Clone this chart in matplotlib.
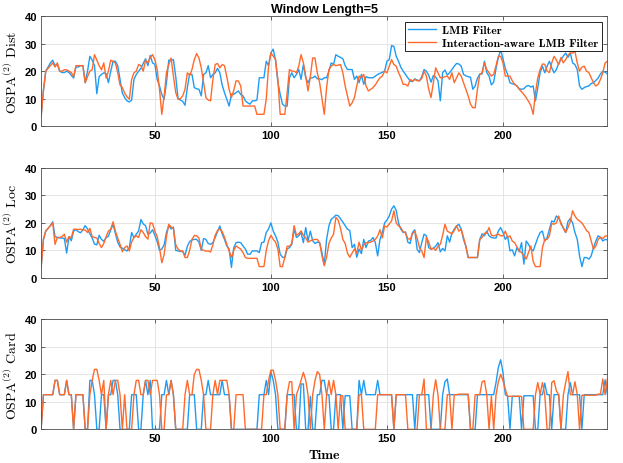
import matplotlib.pyplot as plt
import numpy as np

plt.rcParams['mathtext.fontset'] = 'cm'
plt.rcParams['axes.unicode_minus'] = False

# OSPA(2) distance, time steps 1..245
dist_lmb = [3.5, 13, 20, 21.5, 23, 24, 22, 22.5, 20, 19.5,
            19.5, 20, 19.5, 18.5, 17.5, 21.5, 21.5, 22, 22, 15.8,
            20, 25.4, 24, 22, 11.8, 18, 18.8, 19.4, 19, 15.8,
            20, 23.6, 23.6, 22, 17, 12, 10.4, 9.2, 8.8, 9.5,
            17, 18.8, 20, 21, 22.8, 24.5, 22, 25.7, 23, 22.5,
            17, 14.6, 11.5, 9.8, 15.8, 24, 24, 24.2, 18, 10,
            9.5, 9, 7.6, 14, 19, 18.8, 14, 13.6, 13.4, 11,
            18.8, 19.4, 22, 17.6, 18.8, 19.4, 21, 19.4, 15, 12.2,
            9.8, 7.3, 11.6, 11.6, 12.2, 12.8, 11.5, 11, 9.2, 8.5,
            8, 9.2, 9.2, 9.5, 17.6, 17.6, 17.6, 23.6, 22, 26.6,
            28, 24, 16, 11.6, 8, 7.3, 7.3, 17.6, 19.4, 17.6,
            18.8, 20.6, 17, 22.4, 17.6, 15.8, 17.6, 17.6, 18.2, 17.2,
            17.2, 16.9, 17.6, 17.6, 20, 23, 22.4, 26, 25.4, 25,
            24.5, 22, 20.6, 20.6, 20.6, 17, 18.2, 15.8, 18.8, 15.2,
            18, 17.6, 17.6, 17.6, 18.2, 18.8, 19.2, 19.6, 20, 23.6,
            24.2, 29.3, 29, 25.4, 23.6, 21.4, 20, 18.8, 17.6, 16.4,
            16.2, 17.2, 16.8, 16.4, 18, 20.6, 20, 18.5, 16, 18.4,
            17.8, 16.5, 9.2, 19.5, 20.4, 18.6, 19.4, 20.6, 21.8, 22.8,
            22.6, 21.8, 18.8, 18.3, 18, 17.8, 13.4, 14.6, 17.4, 19,
            19, 23.6, 19.5, 18.2, 15, 16, 21, 25, 27.8, 24.5,
            21, 18.8, 15.8, 15.4, 15.2, 14.6, 13.6, 13.4, 13.6, 14.5,
            14.8, 14.2, 14.6, 9.2, 14, 19.5, 21.8, 19.4, 21.8, 23.6,
            21.2, 19.4, 20.6, 22.8, 24.2, 25.5, 26.6, 25, 26.6, 23,
            22.4, 20.6, 14.6, 13.4, 14, 14.4, 14.6, 15.5, 15.8, 16.6,
            17.5, 19, 20, 19.6, 19]
dist_ia = [3.5, 13, 20, 21, 22, 23, 21.5, 23, 20, 20,
           20.5, 20.5, 20, 19.5, 18, 22, 22, 22, 22, 15.8,
           18, 20, 20.5, 26, 24, 22, 20.5, 23, 17.5, 20,
           24, 23.5, 23, 19.5, 15, 14, 12, 10.7, 9.8, 17,
           19.4, 20, 22.4, 22, 20, 24, 23, 25, 26, 24.2,
           20.6, 13.4, 4.3, 11, 19.4, 22.4, 24.8, 18.2, 12.2, 9.8,
           10, 11, 13.4, 19.4, 18.4, 20.6, 24.2, 26.4, 24.8, 21.2,
           15.8, 10.4, 9.5, 9.2, 17, 22.4, 22.8, 21.2, 22.4, 22,
           18, 13.4, 10.4, 13, 16.5, 16.4, 14.6, 7.3, 7.3, 7.3,
           7.3, 7.3, 7.3, 4.3, 4.3, 4.3, 4.3, 9.8, 21.8, 26.6,
           25.5, 24.2, 17, 4.3, 4.3, 4.3, 12, 20.6, 20, 20,
           19.4, 21.8, 26, 23, 18.2, 12.8, 18, 24.8, 24.8, 19.4,
           15.8, 10, 4.3, 14, 20.6, 21.8, 22.4, 22, 22.2, 22.4,
           19.4, 14.6, 11, 7.3, 8.5, 10.4, 14.6, 18.2, 17.6, 18.8,
           14.6, 12.8, 13.4, 14, 15, 16.4, 17.6, 18.2, 20, 19.4,
           21.8, 24.2, 22.4, 21.8, 19.5, 17.6, 15.2, 15.2, 14.6, 17,
           16.4, 17, 16.5, 16.6, 17.3, 20, 18.2, 13.4, 10.4, 15.7,
           21.2, 19.4, 17.6, 17.6, 18, 18.2, 17, 19.4, 15.8, 17.6,
           19.4, 18.2, 15.8, 13.4, 11, 8, 6.7, 6.7, 13.4, 18.8,
           19.4, 23, 20.6, 19.4, 18.2, 18.8, 22, 25.4, 25.4, 23,
           18.2, 18.2, 18.2, 16.5, 15.2, 14.6, 13.4, 12.5, 11.5, 10.4,
           9, 7.5, 4.3, 12.2, 17.6, 20.6, 22.6, 22.5, 20, 19.5,
           23, 25.4, 24, 22.4, 25, 23, 24.2, 25.8, 26.6, 26.6,
           27.2, 23, 20, 21.5, 21.8, 20, 19.5, 17.6, 15.8, 14.6,
           15.2, 17, 19.4, 23, 23.6]

# OSPA(2) localisation
loc_lmb = [3.8, 14, 17, 18, 19, 20.4, 15, 14.7, 14.5, 14.5,
           14.3, 9, 15, 13.5, 17, 17.6, 16.8, 16.4, 17.5, 19,
           17.8, 16, 14.5, 12.3, 12, 15.5, 14, 13.3, 14.6, 15.2,
           17.5, 19.4, 16.2, 13, 11.2, 10.8, 10.2, 9.8, 11, 16.5,
           14.6, 15.9, 17, 21.2, 19.6, 19, 15.9, 16.3, 17.5, 15.5,
           13.2, 10, 10.5, 12, 16.5, 18.9, 17.8, 18.5, 10, 9.8,
           9.6, 9.6, 8.2, 11.5, 13.2, 13.8, 14, 14, 13, 10,
           14.3, 14, 12.5, 12.2, 12.8, 14.7, 16.8, 18.9, 16, 14,
           11.6, 10.5, 3.8, 11, 12.8, 13, 12.8, 11.6, 10.5, 8.6,
           8.6, 9.8, 9.8, 9.8, 9.2, 12.8, 13, 16.5, 17.8, 20,
           17, 15.3, 13, 8.6, 7.5, 7.4, 10.5, 11, 12.2, 17.7,
           14.7, 15.3, 16.5, 12.8, 18.3, 13.5, 17, 13.5, 12.5, 13,
           12.8, 9.2, 4.8, 14, 18.9, 21.3, 22, 22.8, 22.6, 21.5,
           20.3, 19, 17.7, 17.2, 11, 12.2, 7.5, 10.5, 8.8, 14,
           11, 13.4, 13.6, 14.7, 12.8, 8, 14, 16.5, 20, 21,
           22.5, 25, 26.2, 24.5, 20, 17.7, 16.5, 16.7, 13, 12.5,
           16.5, 17.5, 10.4, 9.2, 12.8, 15.9, 15.3, 11, 10.4, 10.8,
           11.5, 12.8, 9.5, 10.7, 9.8, 15.3, 13, 16.3, 17.7, 18.9,
           19.5, 17.7, 14, 11.5, 7.4, 7.4, 7.4, 7.4, 7.4, 14,
           16, 15.3, 17, 15.3, 14.7, 14.5, 14.5, 17, 18.3, 16.5,
           14, 15.2, 9.8, 10.2, 8, 11, 9.5, 12.8, 5, 13.4,
           12.2, 10.6, 9.8, 12.2, 14.6, 16.5, 17, 13.4, 14.6, 17.7,
           20.7, 20.3, 22.5, 21.8, 20, 18, 16.5, 20.5, 21.6, 20,
           16.5, 14, 8, 4.1, 7.4, 7.4, 6.8, 8, 11, 13.4,
           15.3, 14.7, 13.4, 14, 13.8]
loc_ia = [3.8, 14, 17, 18, 19, 20, 12.2, 14.7, 14.7, 15,
          15.9, 13, 15, 14.6, 17.7, 17.7, 17.6, 17.7, 17.4, 17.4,
          16.5, 18, 15, 14.7, 14.5, 12.5, 11, 12.5, 15, 17,
          17.7, 20.4, 17, 14.5, 12.2, 9.5, 11, 11.6, 9.8, 13,
          14.7, 15.3, 14.7, 17.5, 16.5, 15, 14.1, 20, 19.8, 17,
          15, 11, 5.5, 8.5, 15, 19.5, 18.5, 18, 12, 10.5,
          9.8, 9.8, 7.4, 7.4, 10, 14, 15.4, 15.3, 14.5, 10.5,
          10, 9.7, 9.8, 9.4, 12, 15.5, 17.2, 17.8, 16.8, 14.8,
          12.2, 9.8, 7.4, 10, 11.6, 11, 10.5, 9.2, 7.4, 7.1,
          7.1, 7.1, 7.1, 7.1, 4.1, 4.1, 4.1, 10, 13.5, 15.5,
          14, 13, 10.5, 4.1, 4.1, 7.5, 11.5, 11.5, 12.5, 19,
          15.5, 16, 17.1, 15.5, 14.5, 13, 13.5, 13.8, 14, 14,
          12.8, 8, 4.4, 7.5, 12.5, 14.5, 15.9, 22, 21, 18,
          14, 12.5, 9, 7.5, 9, 10.5, 9, 13, 10, 12,
          12.8, 12.8, 13, 13.4, 14, 15.2, 17.5, 14.5, 18.9, 18.5,
          19.6, 20.7, 24.4, 20, 18.9, 18.2, 16.8, 16.3, 14.3, 14,
          16, 17, 14.5, 11, 9.8, 7.4, 14.7, 13, 10.4, 10.8,
          10, 11.5, 12.2, 15.5, 19.5, 17, 16.5, 16, 17.2, 18.9,
          17, 17.7, 14.7, 11.5, 7.4, 7.4, 7.4, 7.4, 7.4, 14,
          14.7, 16.2, 16.3, 18.3, 15.5, 15.3, 15.5, 15.9, 15.3, 15.3,
          17, 14.7, 15.3, 13.4, 12.8, 11.3, 9.8, 9.2, 8, 6.8,
          9.2, 11.6, 6, 4.1, 4.1, 4.1, 11, 14, 14, 15.3,
          19.8, 19.5, 20, 22.5, 19.5, 18.3, 16.5, 18.3, 20.5, 24.4,
          22.5, 21.3, 20.7, 20, 18.7, 17.2, 16.5, 13.5, 10.4, 11.6,
          14, 14.8, 14.3, 15.2, 15.3]

# OSPA(2) cardinality
card_lmb = [0, 12.6, 12.6, 12.6, 12.6, 12.6, 17.8, 17.8, 12.6, 12.6,
            12.6, 17.8, 12.6, 12.6, 0, 12.6, 12.6, 12.6, 12.6, 0,
            0, 17.8, 17.8, 12.6, 0, 0, 12.6, 12.6, 0, 12.6,
            12.6, 17.8, 17.8, 12.6, 0, 0, 0, 0, 0, 12.6,
            12.6, 12.6, 0, 0, 12.6, 17.8, 12.6, 17.8, 0, 0,
            0, 0, 12.6, 12.6, 17.8, 12.6, 17.8, 12.6, 0, 0,
            0, 0, 0, 0, 12.6, 12.6, 12.6, 0, 0, 0,
            12.6, 12.6, 17.8, 12.6, 12.6, 12.6, 12.6, 12.6, 17.8, 12.6,
            12.6, 12.6, 0, 0, 0, 0, 0, 0, 0, 0,
            0, 0, 0, 0, 12.6, 12.6, 12.6, 17.8, 12.6, 21,
            17.8, 12.6, 0, 0, 0, 0, 12.6, 12.6, 12.6, 12.6,
            0, 0, 16.5, 16.5, 0, 0, 12, 0, 0, 12.6,
            12.6, 17.8, 17.8, 12.6, 12.6, 0, 0, 12.6, 12.6, 12.6,
            0, 12.2, 12.2, 12.2, 0, 0, 0, 17.8, 12.6, 17.8,
            12.6, 12.6, 12.6, 12.6, 12.6, 17.8, 12.6, 12.6, 12.6, 12.6,
            12.6, 12.6, 0, 12.6, 12.6, 12.6, 12.6, 12.6, 12.6, 12.6,
            12.6, 0, 12.6, 12.6, 12.6, 12.6, 12.6, 12.6, 0, 0,
            0, 0, 0, 12.6, 17.3, 18.3, 12.6, 12.6, 12.6, 12.6,
            12.6, 12.6, 12.6, 12.6, 12.6, 0, 0, 0, 12.6, 12.6,
            12.6, 12.6, 12.6, 12.6, 12.6, 12.6, 17, 22.5, 25.3, 20.7,
            12.6, 12, 0, 12, 12, 12, 12, 0, 12.2, 12.2,
            12.2, 12.2, 12.2, 0, 0, 12.6, 12.6, 16.8, 12.6, 12.6,
            0, 12.6, 12.6, 12.6, 0, 0, 0, 12.6, 17, 12.6,
            12.6, 12.6, 12.6, 0, 12.6, 12.6, 12.6, 12.6, 12.6, 12.6,
            12.6, 12.6, 12.6, 18, 12.6]
card_ia = [0, 12.6, 12.6, 12.6, 12.6, 12.6, 17.8, 17.8, 12.6, 12.6,
           12.6, 17.8, 12.6, 12.6, 0, 12.6, 12.6, 12.6, 12.6, 0,
           0, 12.6, 17.8, 21.8, 21.8, 17.8, 12.6, 17.8, 0, 12.6,
           17.8, 12.6, 17.8, 17.8, 12.6, 0, 12.6, 0, 0, 0,
           12.6, 17.8, 17.8, 12.6, 12.6, 17.8, 17.8, 12.6, 17.8, 17.8,
           17.8, 12.6, 0, 0, 12.6, 12.6, 17.8, 12.6, 0, 0,
           0, 0, 12.6, 17.8, 12.6, 12.6, 20, 21.8, 21.8, 17.8,
           12.6, 0, 0, 0, 12.6, 17.8, 12.6, 17.8, 17.8, 17.8,
           17.8, 12.6, 0, 0, 12.6, 12.6, 12.6, 12.6, 0, 0,
           0, 0, 0, 0, 0, 0, 12.6, 12.6, 17.8, 21.5,
           21.5, 17.8, 12.6, 0, 0, 0, 12.6, 17.3, 17.3, 0,
           12.6, 15, 17.8, 20.7, 17.8, 12.6, 0, 12.6, 17.8, 21,
           20, 12.6, 0, 12.6, 17.8, 12.6, 17.8, 12.6, 0, 12.2,
           12.2, 0, 0, 0, 0, 0, 0, 12.6, 12.6, 0,
           0, 0, 0, 0, 0, 12.6, 12.6, 12.6, 12.6, 12.6,
           12.6, 12.6, 0, 12.6, 12.6, 12.6, 12.6, 12.6, 0, 0,
           0, 0, 0, 12.6, 12.6, 18.3, 0, 0, 0, 12.6,
           18, 12.6, 0, 0, 0, 12.6, 12.6, 0, 12.6, 12.6,
           12.8, 12.8, 12.8, 12.8, 12.8, 0, 0, 12.6, 12.6, 12.6,
           17.3, 17.7, 12.6, 0, 12.2, 0, 12.6, 17.3, 20, 17.7,
           14.5, 12, 12, 12, 12, 12, 12, 12, 0, 0,
           0, 0, 0, 12.6, 17, 12.6, 17, 12.6, 0, 0,
           17, 17.7, 14, 12.6, 0, 12.4, 17, 21, 12.6, 12.6,
           17.3, 12.6, 0, 12.4, 12.4, 12.4, 12.4, 12.4, 12.4, 12.4,
           12.8, 12.8, 18.3, 12.6, 18.5]

panel_names = ['Dist', 'Loc', 'Card']
series_labels = ['LMB Filter', 'Interaction-aware LMB Filter']
x_ticks = [50, 100, 150, 200]
y_ticks = [0, 10, 20, 30, 40]

blue = '#1e9cf4'
orange = '#ff6a2b'

fig = plt.figure(figsize=(6.23, 4.64), dpi=100)
bottoms = [0.726, 0.399, 0.0726]
panels = [(dist_lmb, dist_ia), (loc_lmb, loc_ia), (card_lmb, card_ia)]

axes = []
for b, (s1, s2), name in zip(bottoms, panels, panel_names):
    ax = fig.add_axes([0.066, b, 0.909, 0.237])
    ax.plot(np.arange(1, len(s1) + 1), s1, color=blue, lw=1.0, label=series_labels[0])
    ax.plot(np.arange(1, len(s2) + 1), s2, color=orange, lw=1.0, label=series_labels[1])
    ax.set_xlim(1, 245)
    ax.set_ylim(0, 40)
    ax.set_xticks(x_ticks)
    ax.set_yticks(y_ticks)
    ax.grid(True, color='#e1e1e1', lw=0.6)
    ax.set_axisbelow(True)
    ax.tick_params(direction='in', top=True, right=True, length=3, width=0.6,
                   labelsize=8, color='0.3', pad=3)
    for lab in ax.get_xticklabels() + ax.get_yticklabels():
        lab.set_fontweight('bold')
        lab.set_family('Liberation Sans')
    for sp in ax.spines.values():
        sp.set_color('0.3')
        sp.set_linewidth(0.6)
    ax.set_ylabel('OSPA$^{(2)}$ ' + name, fontfamily='cmr10', fontsize=10)
    ax.yaxis.set_label_coords(-0.037, 0.5)
    axes.append(ax)

axes[0].set_title('Window Length=5', fontweight='bold', fontsize=9,
                  family='Liberation Sans', pad=3)
leg = axes[0].legend(loc='upper right', prop={'family': 'cmb10', 'size': 8.5},
                     fancybox=False, edgecolor='black', framealpha=1,
                     borderaxespad=0.5, handlelength=2.4, labelspacing=0.2,
                     borderpad=0.25, handletextpad=0.5)
leg.get_frame().set_linewidth(0.6)

axes[2].set_xlabel('Time', fontfamily='cmb10', fontsize=10)
axes[2].xaxis.set_label_coords(0.5, -0.18)

fig.savefig('out.png', dpi=100)
